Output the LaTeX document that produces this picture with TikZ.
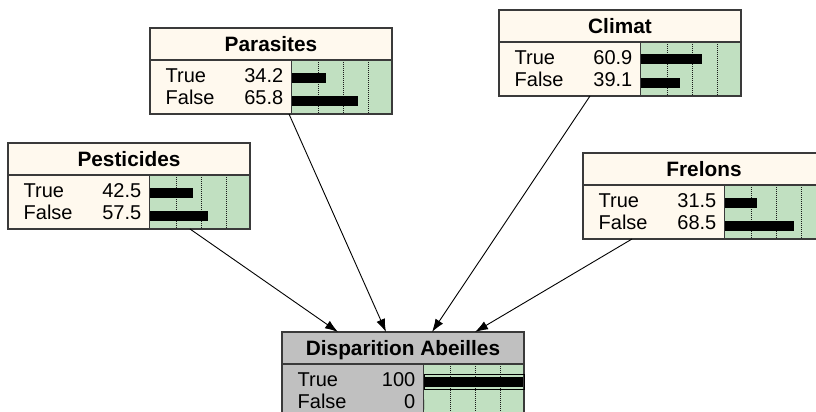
\documentclass[tikz,border=0pt]{standalone}
\usepackage{fontspec}
\setmainfont{Liberation Sans}
\usetikzlibrary{positioning,arrows.meta,calc}
\definecolor{NetCream}{HTML}{FFF9EE}
\definecolor{NetGreen}{HTML}{C1E0C1}
\definecolor{NetGray}{HTML}{C0C0C0}
\definecolor{NetLine}{HTML}{3A3A3A}

\begin{document}
\begin{tikzpicture}[
    x=1pt, y=1pt,
    netframe/.style={
      draw=NetLine,
      line width=1.3pt
    },
    netbox/.style={
      anchor=north west,
      minimum width=242pt,
      minimum height=86pt,
      inner sep=0pt,
      outer sep=0pt
    },
    nettitle/.style={
      anchor=north,
      minimum width=242pt,
      minimum height=32pt,
      inner sep=0pt,
      text height=16pt,
      text depth=2pt,
      font=\fontsize{20.8}{23}\selectfont\bfseries
    },
    netstate/.style={
      anchor=base west,
      inner sep=0pt,
      font=\fontsize{20}{22}\selectfont
    },
    netvalue/.style={
      anchor=base east,
      inner sep=0pt,
      font=\fontsize{20}{22}\selectfont
    },
    netgrid/.style={
      densely dotted,
      line width=1pt,
      black!90
    },
    netlink/.style={
      -{Latex[length=13pt,width=9pt]},
      line width=0.9pt,
      black
    }
  ]
  \useasboundingbox (0,0) rectangle (816,-412);
  \clip (0,0) rectangle (816,-412);

  % belief boxes
  \foreach \n/\x/\y/\ttl/\pt/\pf/\col in {
      pest/8/143/Pesticides/42.5/57.5/NetCream,
      para/150/28/Parasites/34.2/65.8/NetCream,
      clim/499/10/Climat/60.9/39.1/NetCream,
      frel/583/153/Frelons/31.5/68.5/NetCream,
      dis/282/332/Disparition Abeilles/100/0/NetGray}{
    \node[netbox, fill=\col] (\n) at (\x,-\y) {};
    \fill[NetGreen] ([shift={(142,-32)}]\n.north west) rectangle (\n.south east);
    \foreach \g in {26,51,76}
      \draw[netgrid] ([shift={({142+\g},-32)}]\n.north west) -- ([xshift={142+\g}]\n.south west);
    \fill ([shift={(142,-44.5)}]\n.north west) rectangle ++(\pt,-10);
    \fill ([shift={(142,-67.5)}]\n.north west) rectangle ++(\pf,-10);
    \node[nettitle] (\n-title) at (\n.north) {\ttl};
    \node[netstate] at ([shift={(15.5,-54)}]\n.north west) {True};
    \node[netstate] at ([shift={(15.5,-76.5)}]\n.north west) {False};
    \node[netvalue] at ([shift={(133.5,-54)}]\n.north west) {\pt};
    \node[netvalue] at ([shift={(133.5,-76.5)}]\n.north west) {\pf};
    \draw[netframe] ([yshift=-32pt]\n.north west) -- ([yshift=-32pt]\n.north east);
    \draw[netframe] ([shift={(141.5,-32)}]\n.north west) -- ([xshift=141.5pt]\n.south west);
    \draw[netframe] (\n.north west) rectangle (\n.south east);
  }

  % finding on Disparition Abeilles
  \draw[line width=1pt, black] ([shift={(142,-42)}]dis.north west) rectangle ([yshift=-57pt]dis.north east);

  % links
  \draw[netlink] ([xshift=182pt]pest.south west) -- ([xshift=56pt]dis.north west);
  \draw[netlink] ([xshift=139pt]para.south west) -- ([xshift=104pt]dis.north west);
  \draw[netlink] ([xshift=91pt]clim.south west) -- ([xshift=150pt]dis.north west);
  \draw[netlink] ([xshift=49pt]frel.south west) -- ([xshift=193pt]dis.north west);

\end{tikzpicture}
\end{document}
